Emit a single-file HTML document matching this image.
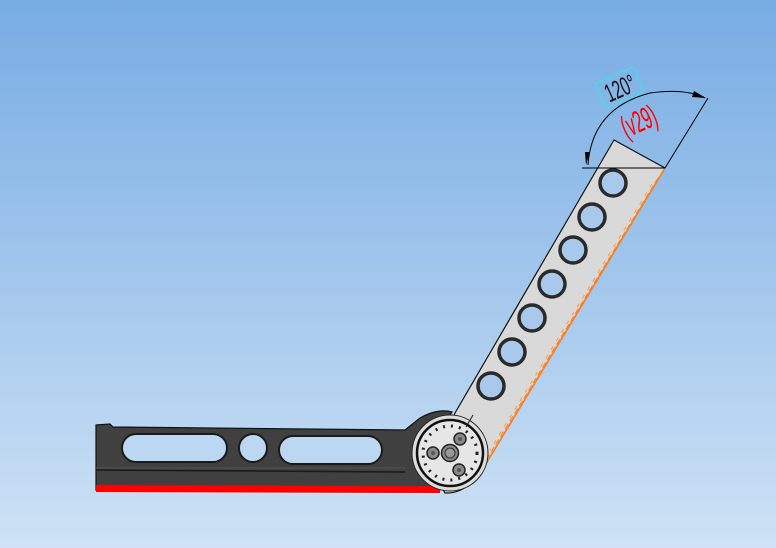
<!DOCTYPE html>
<html><head><meta charset="utf-8"><style>
html,body{margin:0;padding:0;width:776px;height:548px;overflow:hidden}
body{background:linear-gradient(to bottom,#77ace3 0%,#a6c9ed 55%,#cfe2f5 100%)}
svg{position:absolute;left:0;top:0}
</style></head><body>
<svg width="776" height="548" viewBox="0 0 776 548" xmlns="http://www.w3.org/2000/svg">
<path d="M614,140 L665,168 L487,462 Q470,494 445,493 L432,470 L455,413 Z" fill="#d9d9d9" stroke="#111" stroke-width="1.2"/>
<line x1="665" y1="168" x2="487" y2="462" stroke="#ff7f1e" stroke-width="1.6"/>
<line x1="658" y1="178" x2="485" y2="462" stroke="#ff7f1e" stroke-width="1" stroke-dasharray="6,3"/>
<line x1="652" y1="184" x2="490" y2="450" stroke="#ff9a40" stroke-width="1" stroke-dasharray="4,6"/>
<g fill="#a8c8ec" stroke="#2a2a2a" stroke-width="3.5">
<circle cx="613" cy="183" r="13"/><circle cx="592" cy="217" r="13"/><circle cx="573" cy="250" r="13"/>
<circle cx="552" cy="284" r="13"/><circle cx="532" cy="318" r="13"/><circle cx="512" cy="352" r="13"/>
<circle cx="491" cy="386" r="13"/>
</g>
<path d="M96,425 L110,424 L113,427 L405,430 L420,418 Q438,408 452,412 L448,418 Q418,428 414,455 Q416,480 440,491 L96,490 Z" fill="#404040" stroke="#111" stroke-width="1.2"/>
<line x1="96" y1="470" x2="405" y2="472" stroke="#1a1a1a" stroke-width="1.5"/>
<line x1="96" y1="468" x2="405" y2="468" stroke="#555" stroke-width="1"/>
<g fill="#bcd7f2" stroke="#1a1a1a" stroke-width="2">
<rect x="122" y="434" width="105" height="28" rx="14"/>
<ellipse cx="253" cy="448" rx="14" ry="14"/>
<rect x="279" y="436" width="103" height="28" rx="14"/>
</g>
<path d="M96,485 L440,486 L440,493 L96,492 Z" fill="#ff0000"/>
<circle cx="450" cy="453" r="38" fill="#dcdcdc" stroke="#222" stroke-width="1"/>
<circle cx="450" cy="453" r="33" fill="#e6e6e6" stroke="#111" stroke-width="2.5"/>
<circle cx="450" cy="453" r="27" fill="none" stroke="#222" stroke-width="3" stroke-dasharray="2,6"/>
<circle cx="450" cy="453" r="8.5" fill="#888" stroke="#222" stroke-width="1.5"/>
<circle cx="450" cy="453" r="5" fill="#999" stroke="#333" stroke-width="1"/>
<g fill="#8a8a8a" stroke="#222" stroke-width="1.5">
<circle cx="460" cy="439" r="6"/><circle cx="433" cy="453" r="6"/><circle cx="459" cy="470" r="6"/>
</g>
<g fill="#555"><circle cx="460" cy="439" r="2"/><circle cx="433" cy="453" r="2"/><circle cx="459" cy="470" r="2"/></g>
<line x1="466" y1="427" x2="473" y2="415" stroke="#222" stroke-width="1"/>
<line x1="582" y1="168" x2="665" y2="168" stroke="#000" stroke-width="1"/>
<line x1="665" y1="168" x2="708" y2="98" stroke="#000" stroke-width="1"/>
<path d="M588,165 Q592,108 650,93 Q685,88 705,98" fill="none" stroke="#000" stroke-width="1"/>
<path d="M586,165 L585,152 L590,152 Z" fill="#000"/>
<path d="M706,98 L694,91 L692,97 Z" fill="#000"/>
<g transform="translate(620,88) rotate(-24)">
<rect x="-21" y="-14" width="42" height="27" fill="none" stroke="#2fe6f0" stroke-width="1"/>
<text x="0" y="7" transform="scale(0.75,1.3)" font-family="Liberation Sans,sans-serif" font-size="20" text-anchor="middle" fill="#111">120°</text>
</g>
<g transform="translate(639,122) rotate(-24)">
<text x="0" y="7" transform="scale(0.72,1.4)" font-family="Liberation Sans,sans-serif" font-size="22" text-anchor="middle" fill="#f00">(v29)</text>
</g>
</svg>
</body></html>
